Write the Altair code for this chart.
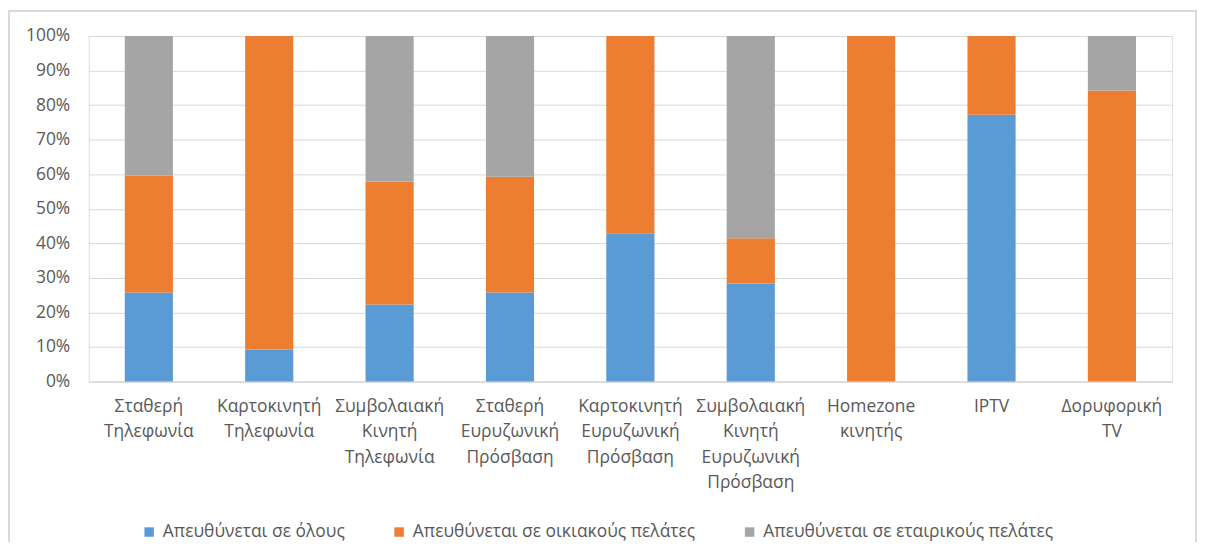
import altair as alt
import pandas as pd

categories = [
    "Σταθερή Τηλεφωνία",
    "Καρτοκινητή Τηλεφωνία",
    "Συμβολαιακή Κινητή Τηλεφωνία",
    "Σταθερή Ευρυζωνική Πρόσβαση",
    "Καρτοκινητή Ευρυζωνική Πρόσβαση",
    "Συμβολαιακή Κινητή Ευρυζωνική Πρόσβαση",
    "Homezone κινητής",
    "IPTV",
    "Δορυφορική TV",
]
series = [
    "Απευθύνεται σε όλους",
    "Απευθύνεται σε οικιακούς πελάτες",
    "Απευθύνεται σε εταιρικούς πελάτες",
]
all_customers = [0.258, 0.093, 0.223, 0.258, 0.429, 0.284, 0.0, 0.772, 0.0]
residential = [0.338, 0.907, 0.356, 0.335, 0.571, 0.131, 1.0, 0.228, 0.842]
business = [0.404, 0.0, 0.421, 0.407, 0.0, 0.585, 0.0, 0.0, 0.158]
colors = ["#5B9BD5", "#ED7D31", "#A5A5A5"]

rows = []
for vals, s_i in zip([all_customers, residential, business], range(3)):
    for c, v in zip(categories, vals):
        rows.append({"cat": c, "series": series[s_i], "order": s_i, "value": v})
df = pd.DataFrame(rows)

FONT = "Open Sans"
TXT = "#595959"
FS = 17.5
W, H = 1088, 347

bars = alt.Chart(df).mark_bar().encode(
    x=alt.X("cat:N", sort=categories, title=None,
            scale=alt.Scale(paddingInner=0.6, paddingOuter=0.3),
            axis=alt.Axis(labelAngle=0, labelExpr="split(datum.label, ' ')",
                          labelFontSize=FS, labelColor=TXT, labelFont=FONT,
                          labelLineHeight=25.5, labelPadding=16, ticks=False,
                          domainColor="#d9d9d9", domainWidth=1, labelLimit=250)),
    y=alt.Y("value:Q", stack="zero", title=None,
            scale=alt.Scale(domain=[0, 1], nice=False),
            axis=alt.Axis(format=".0%", values=[i / 10 for i in range(11)],
                          labelFontSize=FS, labelColor=TXT, labelFont=FONT,
                          labelPadding=19, ticks=False, domain=False,
                          gridColor="#d9d9d9", gridWidth=1)),
    color=alt.Color("series:N", sort=series,
                    scale=alt.Scale(domain=series, range=colors),
                    legend=alt.Legend(title=None, orient="none", direction="horizontal",
                                      legendX=52, legendY=489, symbolType="square",
                                      symbolSize=90, symbolStrokeWidth=0,
                                      labelFontSize=FS, labelColor=TXT, labelFont=FONT,
                                      labelLimit=500, columnPadding=45, labelOffset=5)),
    order=alt.Order("order:Q"),
)

frame = alt.Chart(df).mark_rect(filled=False, stroke="#d9d9d9", strokeWidth=2).encode(
    x=alt.value(-80), x2=alt.value(1112), y=alt.value(-25), y2=alt.value(700)
)

chart = alt.layer(bars, frame).properties(
    width=W, height=H,
    autosize=alt.AutoSizeParams(type="none"),
    padding={"left": 81, "top": 27, "right": 26, "bottom": 160},
).configure_view(stroke=None).configure(font=FONT)

chart.save("out.html", embed_options={"renderer": "svg", "actions": False})
